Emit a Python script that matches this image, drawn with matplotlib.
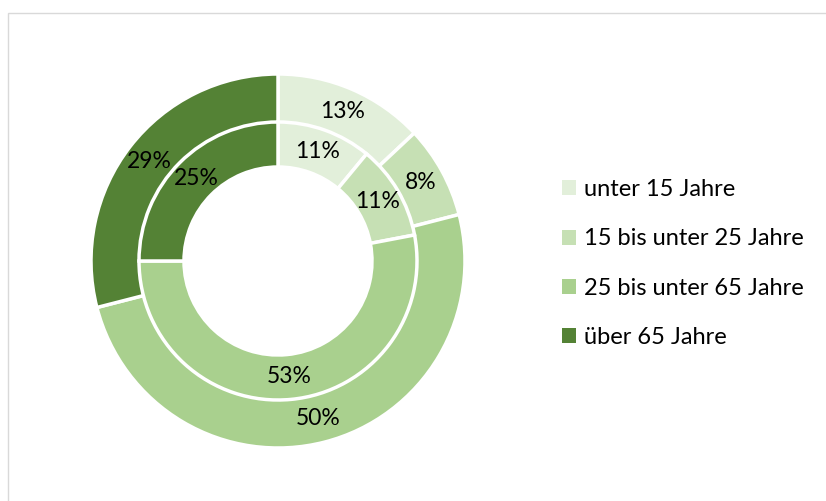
import matplotlib
matplotlib.use("Agg")
import matplotlib.pyplot as plt
from matplotlib.patches import Patch, Rectangle

categories = ["unter 15 Jahre", "15 bis unter 25 Jahre", "25 bis unter 65 Jahre", "über 65 Jahre"]
outer_values = [13, 8, 50, 29]
inner_values = [11, 11, 53, 25]
colors = ["#E2EFDA", "#C6E0B4", "#A9D08E", "#548235"]

plt.rcParams['font.family'] = ['Lato', 'DejaVu Sans']

W, H = 826, 501
fig = plt.figure(figsize=(W / 100, H / 100), dpi=100)
ax = fig.add_axes([0, 0, 1, 1])
ax.set_xlim(0, W)
ax.set_ylim(0, H)
ax.set_aspect('equal')
ax.axis('off')

# light frame around the chart area
ax.add_patch(Rectangle((7.5, -5), W, H - 12.5 + 5, fill=False, edgecolor="#D9D9D9", linewidth=1))

center = (278, H - 261)

# outer ring
ax.pie(outer_values, colors=colors, radius=187, center=center, startangle=90, counterclock=False,
       wedgeprops=dict(width=49, edgecolor='white', linewidth=2.5),
       autopct=lambda p: f"{round(p)}%", pctdistance=0.87,
       textprops=dict(fontsize=16.5, color='black'), frame=True)

# inner ring
ax.pie(inner_values, colors=colors, radius=139, center=center, startangle=90, counterclock=False,
       wedgeprops=dict(width=45, edgecolor='white', linewidth=2.5),
       autopct=lambda p: f"{round(p)}%", pctdistance=0.835,
       textprops=dict(fontsize=16.5, color='black'), frame=True)

ax.set_xlim(0, W)
ax.set_ylim(0, H)
ax.axis('off')

handles = [Patch(facecolor=c, edgecolor='none') for c in colors]
fig.legend(handles, categories, loc='upper left', bbox_to_anchor=(562 / W, 1 - 179 / H),
           frameon=False, fontsize=17, handlelength=0.6, handleheight=0.6,
           handletextpad=0.34, labelspacing=1.2, borderaxespad=0, borderpad=0)

fig.savefig("out.png", dpi=100)
